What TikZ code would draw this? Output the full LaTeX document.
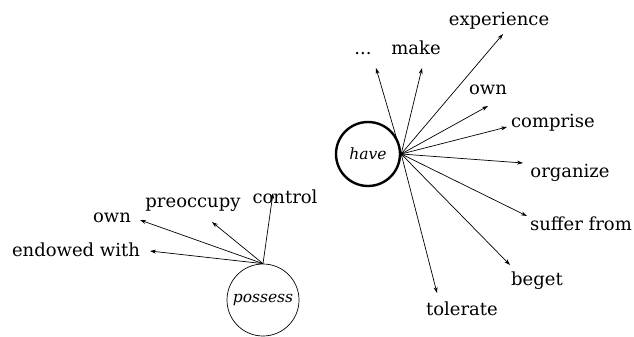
\documentclass[tikz,border=0pt]{standalone}
\usepackage{fontspec}
\setmainfont{DejaVu Serif}
\usepackage{tikz}
\usetikzlibrary{arrows.meta}

\tikzset{
  word/.style={anchor=base, inner sep=0pt, font=\fontsize{18}{20}\selectfont},
  verb/.style={circle, draw, inner sep=0pt, font=\fontsize{15.5}{17}\selectfont\itshape},
  rel/.style={-{Stealth[length=6pt,width=4pt]}, line width=0.7pt}
}

\begin{document}
\begin{tikzpicture}[x=1pt, y=-1pt]
  \useasboundingbox (0,0) rectangle (634,337);

  % have and its neighbours
  \node[verb, minimum size=64pt, line width=2.4pt] (hv) at (368,154) {have};
  \node[word] (dots) at (363,55) {...};
  \node[word] (make) at (416,55) {make};
  \node[word] (exp) at (499,26) {experience};
  \node[word] (own1) at (488,94) {own};
  \node[word] (comp) at (553,127) {comprise};
  \node[word] (org) at (570,177) {organize};
  \node[word] (suff) at (581,230) {suffer from};
  \node[word] (beg) at (537,285) {beget};
  \node[word] (tol) at (462,315) {tolerate};

  \coordinate (t-dots) at (376,68);
  \coordinate (t-make) at (422,68);
  \coordinate (t-exp) at (503,34);
  \coordinate (t-own1) at (488,106);
  \coordinate (t-comp) at (507,127);
  \coordinate (t-org) at (523,163);
  \coordinate (t-suff) at (527,216);
  \coordinate (t-beg) at (510,265);
  \coordinate (t-tol) at (437,293);

  \draw[rel] (hv.east) -- (t-dots);
  \draw[rel] (hv.east) -- (t-make);
  \draw[rel] (hv.east) -- (t-exp);
  \draw[rel] (hv.east) -- (t-own1);
  \draw[rel] (hv.east) -- (t-comp);
  \draw[rel] (hv.east) -- (t-org);
  \draw[rel] (hv.east) -- (t-suff);
  \draw[rel] (hv.east) -- (t-beg);
  \draw[rel] (hv.east) -- (t-tol);

  % possess and its neighbours
  \node[verb, minimum size=72pt, line width=0.7pt] (ps) at (263,300) {possess};
  \node[word] (endw) at (76,256) {endowed with};
  \node[word] (own2) at (112,222) {own};
  \node[word] (preo) at (193,207) {preoccupy};
  \node[word] (ctrl) at (285,203) {control};

  \coordinate (t-endw) at (150,251);
  \coordinate (t-own2) at (140,220);
  \coordinate (t-preo) at (212,222);
  \coordinate (t-ctrl) at (273,193);

  \draw[rel] (ps.north) -- (t-endw);
  \draw[rel] (ps.north) -- (t-own2);
  \draw[rel] (ps.north) -- (t-preo);
  \draw[rel] (ps.north) -- (t-ctrl);
\end{tikzpicture}
\end{document}
